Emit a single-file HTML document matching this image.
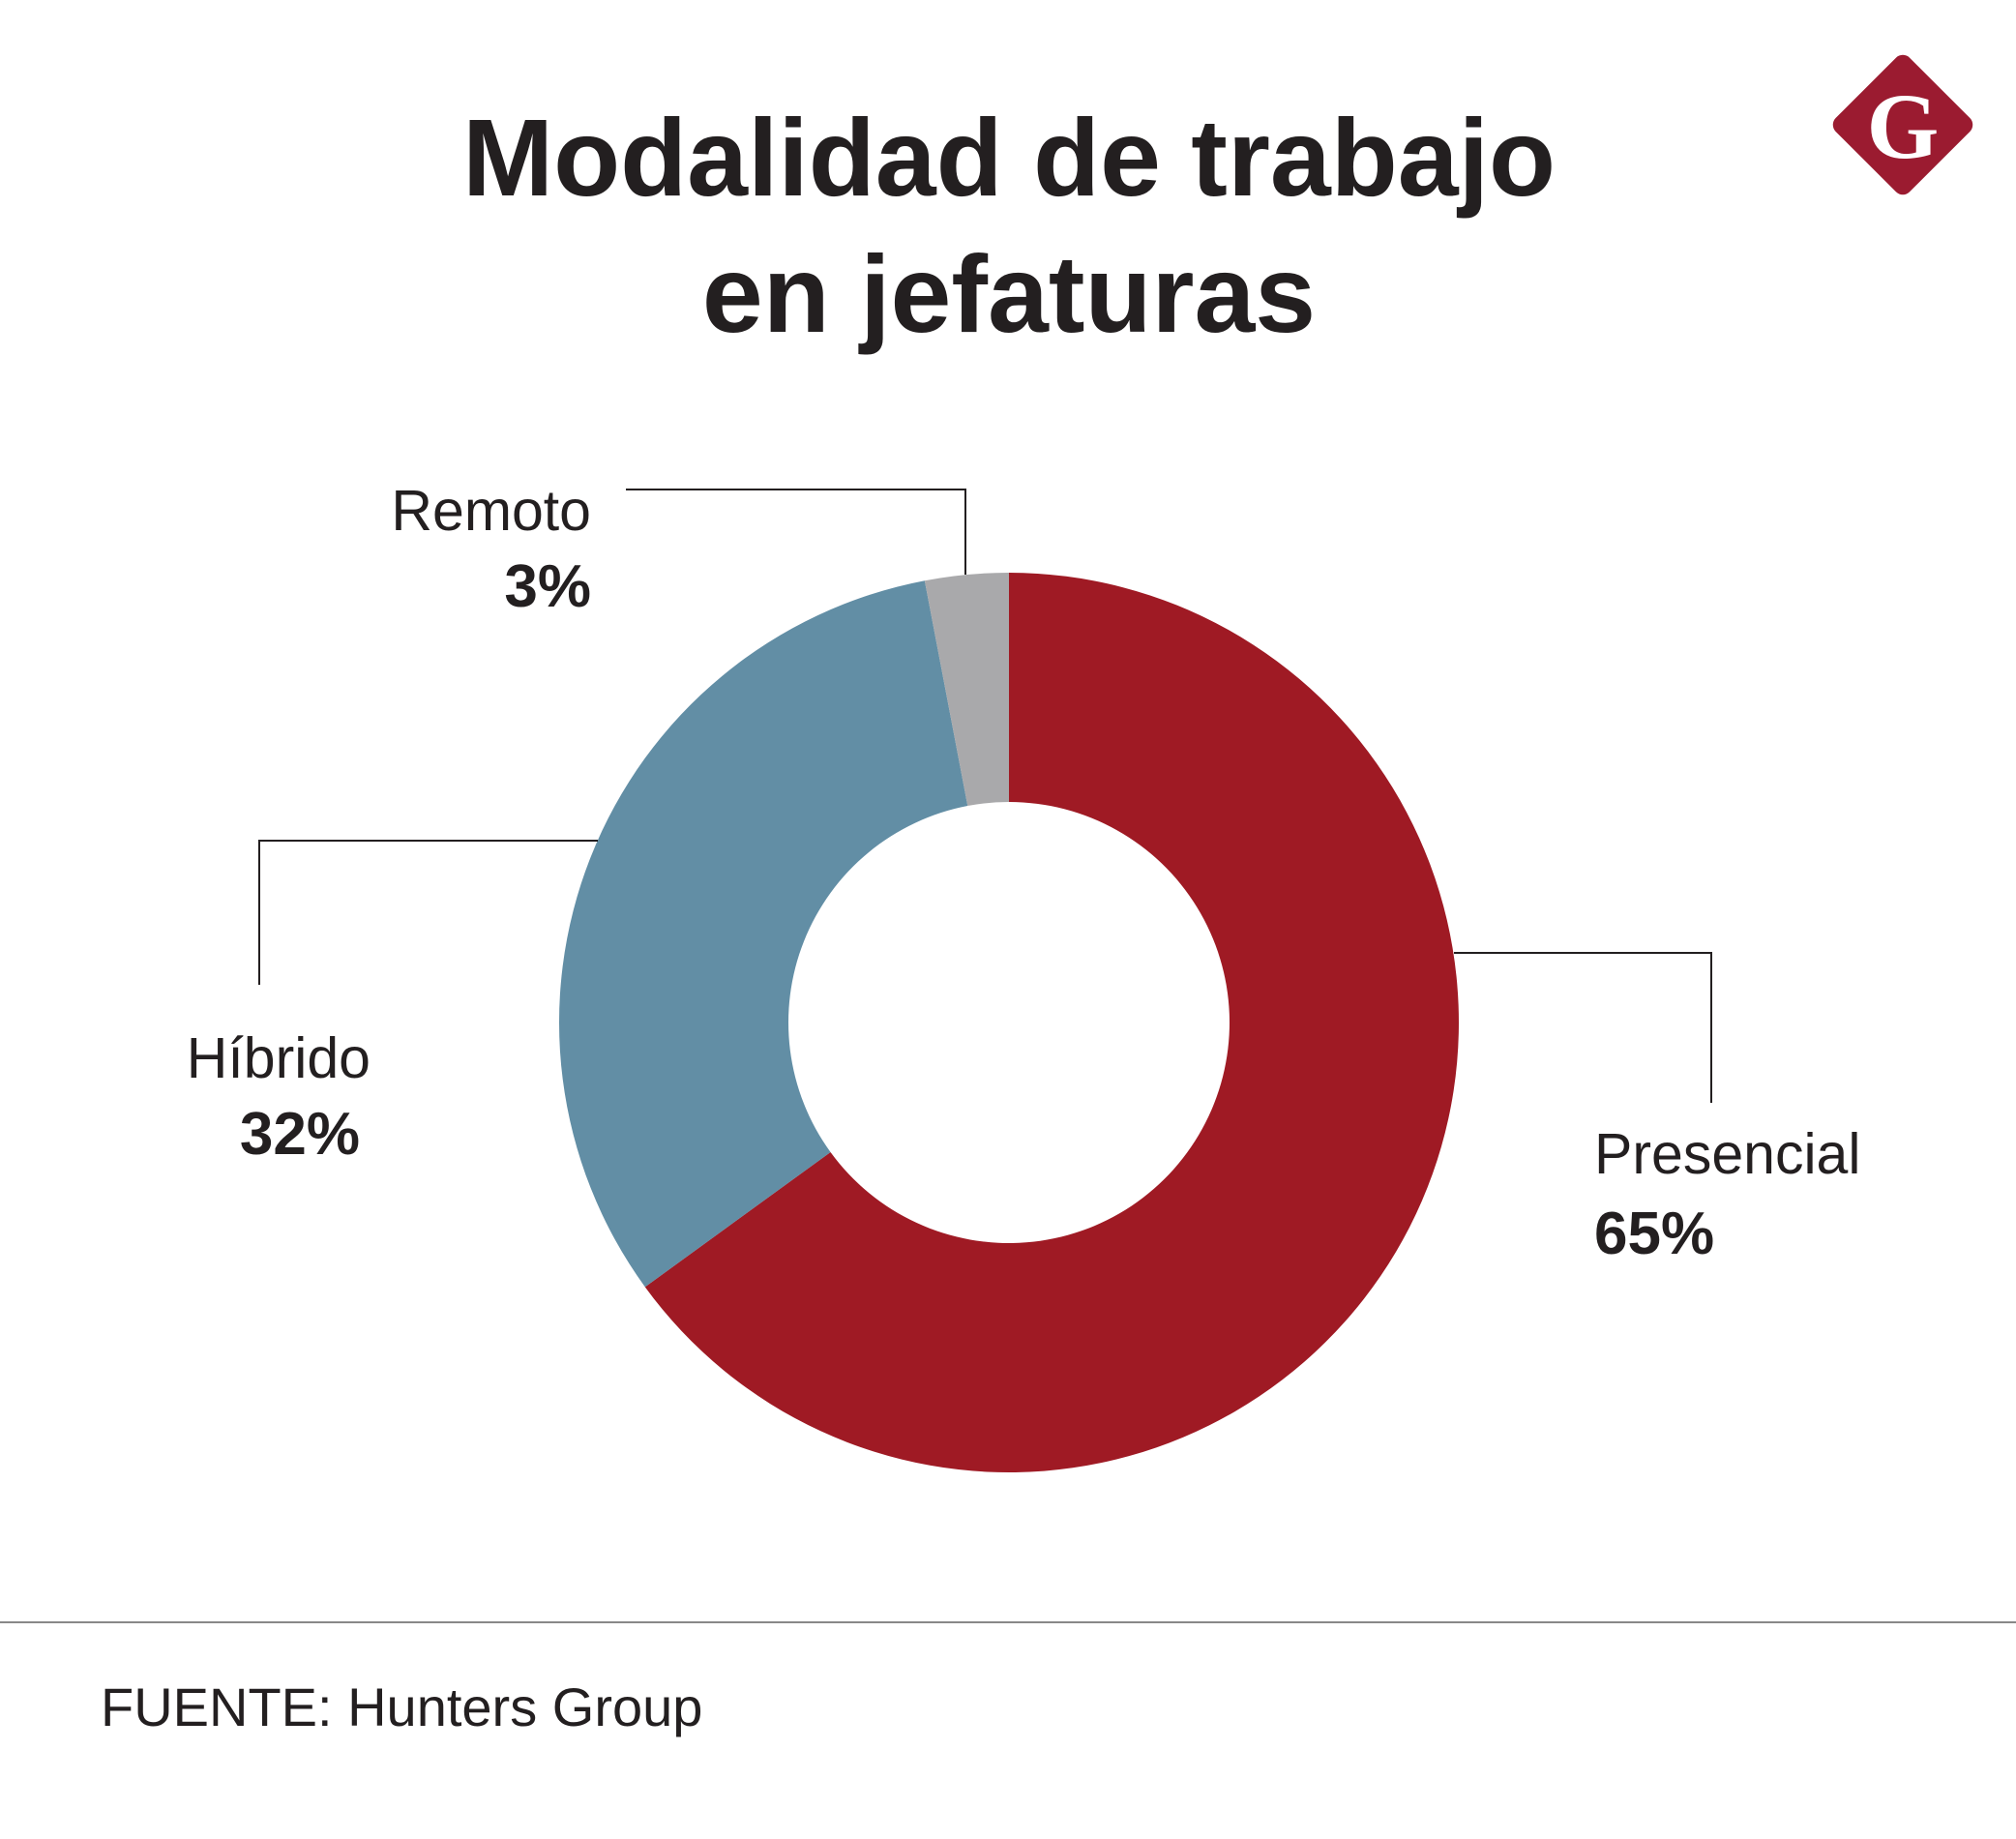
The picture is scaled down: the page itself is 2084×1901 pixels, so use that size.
<!DOCTYPE html>
<html><head><meta charset="utf-8">
<style>
html,body{margin:0;padding:0;background:#fff;}
svg{display:block;}
text{font-family:"Liberation Sans",sans-serif;fill:#231f20;}
</style></head>
<body>
<svg id="chart" width="2084" height="1901" viewBox="0 0 2084 1901">
  <rect width="2084" height="1901" fill="#fff"/>
  <text x="1043" y="202" text-anchor="middle" font-size="113" font-weight="bold">Modalidad de trabajo</text>
  <text x="1043" y="343" text-anchor="middle" font-size="113" font-weight="bold">en jefaturas</text>
  <g>
    <rect x="1913" y="75" width="108" height="108" rx="10" transform="rotate(45 1967 129)" fill="#9b1b30"/>
    <text x="1967" y="163" text-anchor="middle" font-size="96" font-weight="bold" style="fill:#fff;font-family:'Liberation Serif',serif">G</text>
  </g>
  <g id="slices"></g>
  <g stroke="#231f20" stroke-width="2" fill="none">
    <polyline points="647,506 998,506 998,594"/>
    <polyline points="268,1018 268,869 618,869"/>
    <polyline points="1503,985 1769,985 1769,1140"/>
  </g>
  <g id="labels"></g>
  <line x1="0" y1="1677" x2="2084" y2="1677" stroke="#888" stroke-width="2"/>
  <text x="104" y="1784" font-size="56">FUENTE: Hunters Group</text>
</svg>
<script>
const categories = ["Presencial", "Híbrido", "Remoto"];
const values = [65, 32, 3];
const valueLabels = ["65%", "32%", "3%"];
const colors = ["#9f1a24", "#628ea5", "#a9a9ab"];

const cx = 1043, cy = 1057, R = 465, r = 228;
const NS = "http://www.w3.org/2000/svg";
const total = values.reduce((a, b) => a + b, 0);
function pt(angle, rad) {
  return [cx + rad * Math.sin(angle), cy - rad * Math.cos(angle)];
}
const g = document.getElementById("slices");
let acc = 0;
values.forEach((v, i) => {
  const a0 = acc / total * 2 * Math.PI;
  acc += v;
  const a1 = acc / total * 2 * Math.PI;
  const large = (a1 - a0) > Math.PI ? 1 : 0;
  const [x0, y0] = pt(a0, R), [x1, y1] = pt(a1, R);
  const [x2, y2] = pt(a1, r), [x3, y3] = pt(a0, r);
  const p = document.createElementNS(NS, "path");
  p.setAttribute("d", `M${x0},${y0} A${R},${R} 0 ${large} 1 ${x1},${y1} L${x2},${y2} A${r},${r} 0 ${large} 0 ${x3},${y3} Z`);
  p.setAttribute("fill", colors[i]);
  
  
  g.appendChild(p);
});

const labelPos = [
  {x: 1648, x2: 1648, y1: 1213, y2: 1296, anchor: "start"},
  {x: 383, x2: 372, y1: 1114, y2: 1193, anchor: "end"},
  {x: 611, x2: 611, y1: 548, y2: 627, anchor: "end"}
];
const lg = document.getElementById("labels");
categories.forEach((c, i) => {
  const lp = labelPos[i];
  const t1 = document.createElementNS(NS, "text");
  t1.setAttribute("x", lp.x); t1.setAttribute("y", lp.y1);
  t1.setAttribute("text-anchor", lp.anchor);
  t1.setAttribute("font-size", "59");
  t1.textContent = c;
  
  
  lg.appendChild(t1);
  const t2 = document.createElementNS(NS, "text");
  t2.setAttribute("x", lp.x2); t2.setAttribute("y", lp.y2);
  t2.setAttribute("text-anchor", lp.anchor);
  t2.setAttribute("font-size", "62");
  t2.setAttribute("font-weight", "bold");
  t2.textContent = valueLabels[i];
  
  
  lg.appendChild(t2);
});
</script>
</body></html>
